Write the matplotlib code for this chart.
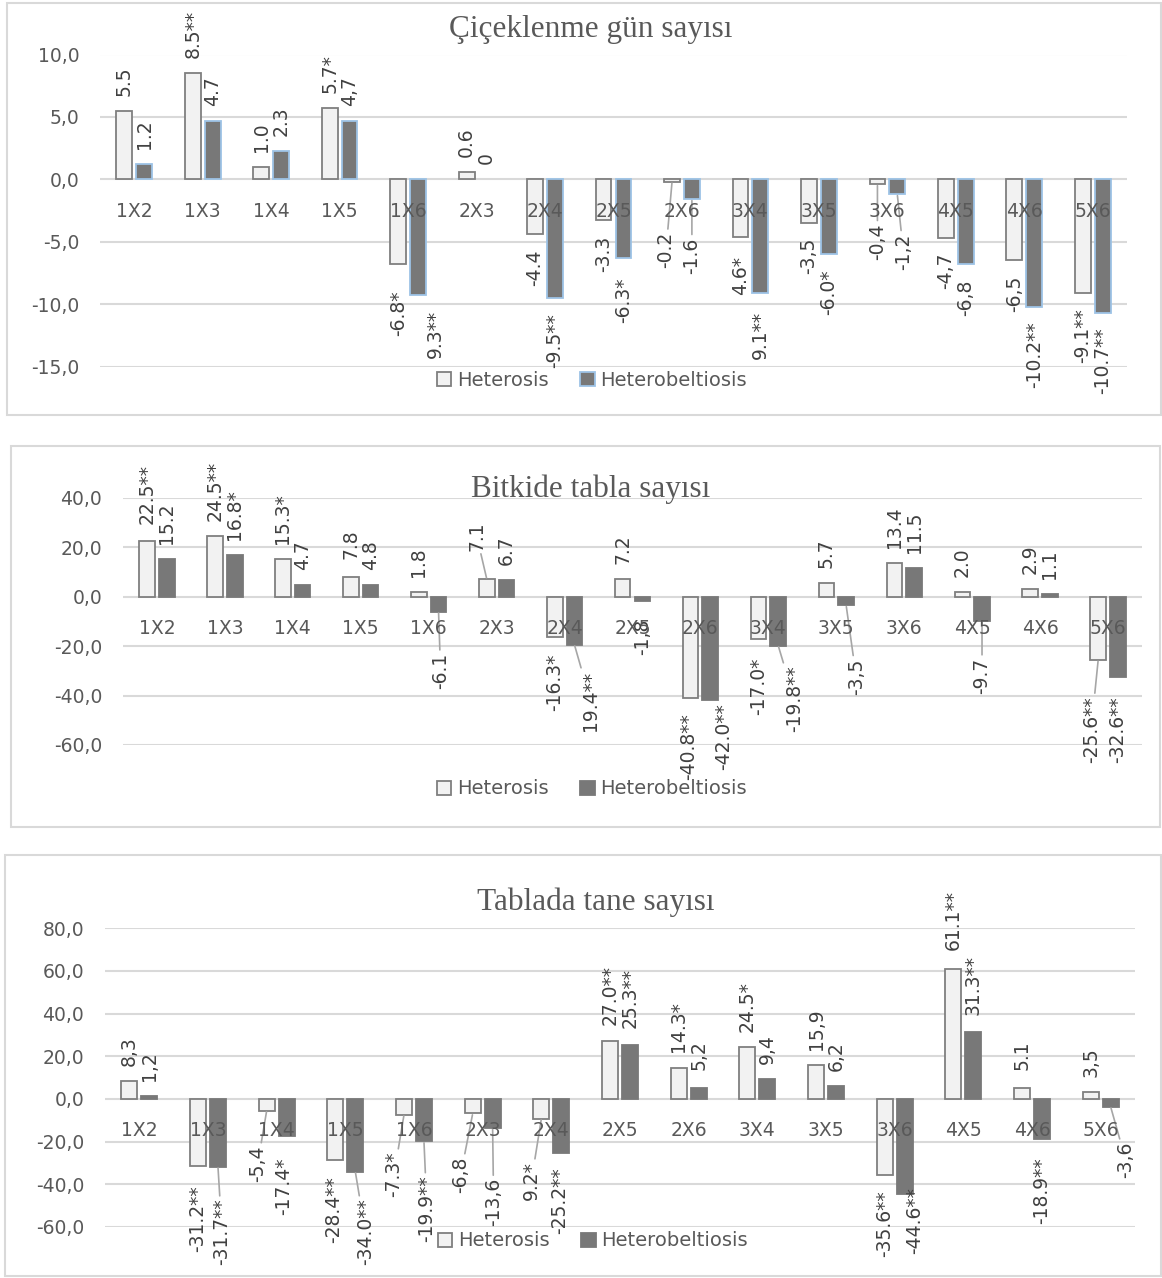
import numpy as np
import matplotlib
matplotlib.use("Agg")
import matplotlib.pyplot as plt
from matplotlib.patches import Patch, Rectangle

crosses = ["1X2", "1X3", "1X4", "1X5", "1X6", "2X3", "2X4", "2X5", "2X6",
           "3X4", "3X5", "3X6", "4X5", "4X6", "5X6"]

# Çiçeklenme gün sayısı
flower_het = [5.5, 8.5, 1.0, 5.7, -6.8, 0.6, -4.4, -3.3, -0.2, -4.6, -3.5, -0.4, -4.7, -6.5, -9.1]
flower_hb = [1.2, 4.7, 2.3, 4.7, -9.3, 0.0, -9.5, -6.3, -1.6, -9.1, -6.0, -1.2, -6.8, -10.2, -10.7]
flower_het_lbl = ["5.5", "8.5**", "1.0", "5.7*", "-6.8*", "0.6", "-4.4", "-3.3", "-0.2",
                  "4.6*", "-3,5", "-0,4", "-4,7", "-6,5", "-9.1**"]
flower_hb_lbl = ["1.2", "4.7", "2.3", "4,7", "9.3**", "0", "-9.5**", "-6.3*", "-1.6",
                 "9.1**", "-6.0*", "-1,2", "-6,8", "-10.2**", "-10.7**"]
flower_ticks = [-15, -10, -5, 0, 5, 10]

# Bitkide tabla sayısı
head_het = [22.5, 24.5, 15.3, 7.8, 1.8, 7.1, -16.3, 7.2, -40.8, -17.0, 5.7, 13.4, 2.0, 2.9, -25.6]
head_hb = [15.2, 16.8, 4.7, 4.8, -6.1, 6.7, -19.4, -1.8, -42.0, -19.8, -3.5, 11.5, -9.7, 1.1, -32.6]
head_het_lbl = ["22.5**", "24.5**", "15.3*", "7.8", "1.8", "7.1", "-16.3*", "7.2", "-40.8**",
                "-17.0*", "5.7", "13.4", "2.0", "2.9", "-25.6**"]
head_hb_lbl = ["15.2", "16.8*", "4.7", "4.8", "-6.1", "6.7", "19.4**", "-1,8", "-42.0**",
               "-19.8**", "-3,5", "11.5", "-9.7", "1.1", "-32.6**"]
head_ticks = [-60, -40, -20, 0, 20, 40]

# Tablada tane sayısı
seed_het = [8.3, -31.2, -5.4, -28.4, -7.3, -6.8, -9.2, 27.0, 14.3, 24.5, 15.9, -35.6, 61.1, 5.1, 3.5]
seed_hb = [1.2, -31.7, -17.4, -34.0, -19.9, -13.6, -25.2, 25.3, 5.2, 9.4, 6.2, -44.6, 31.3, -18.9, -3.6]
seed_het_lbl = ["8,3", "-31.2**", "-5,4", "-28.4**", "-7.3*", "-6,8", "9.2*", "27.0**", "14.3*",
                "24.5*", "15,9", "-35.6**", "61.1**", "5.1", "3,5"]
seed_hb_lbl = ["1,2", "-31.7**", "-17.4*", "-34.0**", "-19.9**", "-13,6", "-25.2**", "25.3**", "5,2",
               "9,4", "6,2", "-44.6**", "31.3**", "-18.9**", "-3,6"]
seed_ticks = [-60, -40, -20, 0, 20, 40, 60, 80]

W_PX, H_PX = 1162, 1278
H_FILL, H_EDGE = "#F2F2F2", "#7F7F7F"
HB_FILL = "#787878"
GRID = "#D9D9D9"
TXT = "#595959"
LBL = "#404040"
BAR_W, BAR_OFF = 0.23, 0.145
GAP = 15  # default label distance from bar end, px

# moved labels: (series, index) -> (dx px, gap px, leader line)
flower_moves = {
    ("h", 4): (0, 26, False), ("b", 4): (17, 15, False), ("b", 7): (0, 20, False),
    ("h", 8): (-6, 50, True), ("b", 8): (0, 38, True), ("h", 9): (0, 19, False),
    ("b", 9): (0, 18, False), ("h", 11): (0, 39, True), ("b", 11): (6, 39, True),
}
head_moves = {
    ("h", 0): (0, 17, False), ("h", 3): (0, 18, False), ("b", 4): (2, 41, True),
    ("h", 5): (-10, 28, True), ("h", 6): (0, 17, False), ("b", 6): (16, 26, True),
    ("b", 7): (0, 18, False), ("h", 8): (-2, 16, False), ("b", 8): (13, 3, False),
    ("h", 9): (0, 19, False), ("b", 9): (16, 20, True), ("b", 10): (10, 53, True),
    ("b", 12): (0, 37, True), ("h", 14): (-7, 36, True), ("b", 14): (0, 19, False),
}
seed_moves = {
    ("h", 1): (0, 20, False), ("b", 1): (4, 32, True), ("h", 2): (-9, 35, True),
    ("b", 2): (-3, 21, False), ("h", 3): (-2, 17, False), ("b", 3): (10, 27, True),
    ("h", 4): (-10, 37, True), ("b", 4): (3, 34, True), ("h", 5): (-12, 43, True),
    ("b", 5): (1, 50, True), ("h", 6): (-10, 43, True), ("b", 6): (-2, 15, False),
    ("h", 7): (0, 16, False), ("b", 7): (0, 17, False), ("h", 8): (0, 16, False),
    ("b", 8): (0, 18, False), ("b", 11): (10, -7, False), ("h", 12): (0, 19, False),
    ("b", 12): (0, 17, False), ("h", 13): (0, 18, False), ("b", 13): (0, 18, False),
    ("b", 14): (15, 35, True),
}

PT = 0.72  # px -> pt at 100 dpi

fig = plt.figure(figsize=(W_PX / 100, H_PX / 100), dpi=100)


def fig_rect(x0, y0, x1, y1):
    return [x0 / W_PX, 1 - y1 / H_PX, (x1 - x0) / W_PX, (y1 - y0) / H_PX]


def panel(box, plot, title, title_xy, legend_xy, het, hb, het_lbl, hb_lbl,
          ticks, moves, hb_edge):
    fig.add_artist(Rectangle((box[0] / W_PX, 1 - box[3] / H_PX),
                             (box[2] - box[0]) / W_PX, (box[3] - box[1]) / H_PX,
                             transform=fig.transFigure, fill=False,
                             edgecolor=GRID, lw=1.5))
    ax = fig.add_axes(fig_rect(*plot))
    x = np.arange(len(crosses))
    ax.bar(x - BAR_OFF, het, BAR_W, color=H_FILL, edgecolor=H_EDGE,
           linewidth=[0 if v == 0 else 1.3 for v in het], zorder=2, clip_on=False)
    ax.bar(x + BAR_OFF, hb, BAR_W, color=HB_FILL, edgecolor=hb_edge,
           linewidth=[0 if v == 0 else 1.3 for v in hb], zorder=2, clip_on=False)

    for key, vals, lbls, shift in (("h", het, het_lbl, -BAR_OFF),
                                   ("b", hb, hb_lbl, BAR_OFF)):
        for i, (v, s) in enumerate(zip(vals, lbls)):
            dx, gap, leader = moves.get((key, i), (0, GAP, False))
            up = v >= 0
            kw = {}
            if leader:
                kw["arrowprops"] = dict(arrowstyle="-", color="#A6A6A6", lw=1.2,
                                        shrinkA=0, shrinkB=1)
            ax.annotate(s, xy=(i + shift, v),
                        xytext=(dx * PT, (gap if up else -gap) * PT),
                        textcoords="offset points", rotation=90,
                        ha="center", va="bottom" if up else "top",
                        fontsize=13.5, color=LBL, annotation_clip=False,
                        zorder=4, **kw)

    # category names sit on top of the bars, just under the zero line
    for i, name in enumerate(crosses):
        ax.annotate(name, xy=(i, 0), xytext=(0, -32 * PT),
                    textcoords="offset points", ha="center", va="center",
                    fontsize=13.5, color=TXT, annotation_clip=False, zorder=5)

    ax.set_xlim(-0.5, len(crosses) - 0.5)
    ax.set_ylim(ticks[0], ticks[-1])
    ax.set_yticks(ticks)
    ax.set_yticklabels([f"{t:.1f}".replace(".", ",") for t in ticks])
    ax.set_xticks([])
    for sp in ax.spines.values():
        sp.set_visible(False)
    ax.tick_params(axis="y", length=0, pad=15, labelsize=13.5, labelcolor=TXT)
    ax.grid(axis="y", color=GRID, lw=1.5, zorder=0)
    ax.set_axisbelow(True)
    ax.patch.set_alpha(0)

    fig.text(title_xy[0] / W_PX, 1 - title_xy[1] / H_PX, title, ha="center",
             va="baseline", family="Liberation Serif", fontsize=22.5, color=TXT)

    handles = [Patch(facecolor=H_FILL, edgecolor=H_EDGE, linewidth=1.3, label="Heterosis"),
               Patch(facecolor=HB_FILL, edgecolor=hb_edge, linewidth=1.3,
                     label="Heterobeltiosis")]
    ax.legend(handles=handles, loc="center",
              bbox_to_anchor=(legend_xy[0] / W_PX, 1 - legend_xy[1] / H_PX),
              bbox_transform=fig.transFigure, ncol=2, frameon=False,
              fontsize=14, labelcolor=TXT, handlelength=0.75, handleheight=0.75,
              handletextpad=0.3, columnspacing=1.6, borderpad=0)
    return ax


panel((7, 3, 1161, 415), (100, 54.5, 1127, 366.5), "Çiçeklenme gün sayısı",
      (591, 37), (592, 380), flower_het, flower_hb, flower_het_lbl, flower_hb_lbl,
      flower_ticks, flower_moves, "#9DC3E6")
panel((11, 446, 1160, 827), (123, 497.7, 1142, 745), "Bitkide tabla sayısı",
      (591, 497), (592, 789), head_het, head_hb, head_het_lbl, head_hb_lbl,
      head_ticks, head_moves, HB_FILL)
panel((5, 855, 1161, 1276), (105, 928.3, 1135, 1227), "Tablada tane sayısı",
      (596, 910), (593, 1241), seed_het, seed_hb, seed_het_lbl, seed_hb_lbl,
      seed_ticks, seed_moves, HB_FILL)

fig.savefig("out.png", dpi=100)
